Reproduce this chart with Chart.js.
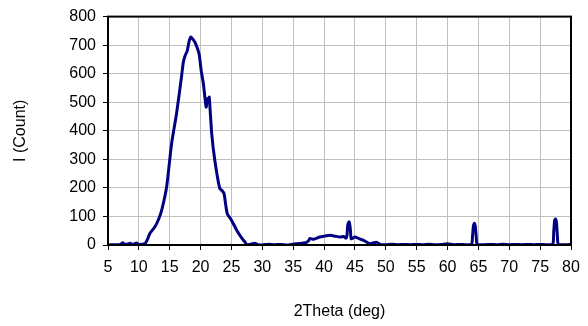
<!DOCTYPE html>
<html>
<head>
<meta charset="utf-8">
<script src="https://cdn.jsdelivr.net/npm/chart.js@4/dist/chart.umd.min.js"></script>
<style>
  html, body { margin: 0; padding: 0; background: #fff; }
  #wrap { width: 588px; height: 326px; }
</style>
</head>
<body>
<div id="wrap"><canvas id="xrd"></canvas></div>
<script>
// 2Theta (deg) vs intensity
const twoTheta = [5, 6, 7, 7.4, 7.8, 8.6, 9, 9.6, 10, 10.6, 11, 11.4, 11.8, 12.6, 13.2, 13.7, 14.5, 15.3, 16.1, 16.9,
  17.2, 17.5, 17.85, 18.1, 18.4, 18.7, 19.1, 19.75, 20.1, 20.45, 20.9, 21.1, 21.3, 21.4, 21.8, 22.3, 23.1, 23.5, 23.8, 24.3,
  25.0, 25.85, 26.7, 27.2, 27.5, 28, 28.8, 29.3, 30, 31, 32, 33, 34, 35, 36, 37, 37.5, 37.7, 38.3, 39.3,
  40, 41, 41.8, 42.6, 43.2, 43.55, 43.7, 43.85, 44.05, 44.25, 44.4, 45.0, 45.7, 46.4, 47, 47.4, 48.5, 49.1, 50, 51, 52,
  53, 54, 55, 56, 57, 58, 59, 60, 61, 62, 63, 63.9, 64.05, 64.2, 64.35, 64.5, 64.65, 64.8, 66, 67, 68, 69,
  70, 71, 72, 73, 74, 75, 76, 77.05, 77.2, 77.35, 77.5, 77.65, 77.8, 77.95, 79, 80];
const counts = [0, 1, 2, 8, 1, 6, 1, 7, 1, 3, 4, 20, 41, 64, 90, 122, 204, 355, 460, 588,
  640, 664, 681, 710, 728, 722, 710, 670, 610, 565, 483, 512, 500, 518, 390, 297, 198, 190, 180, 111,
  87, 52, 23, 10, 0, 2, 6, 1, 0, 3, 1, 2, 0, 3, 5, 8, 15, 23, 20, 28,
  31, 34, 31, 28, 30, 24, 32, 72, 81, 58, 22, 28, 22, 16, 9, 4, 10, 2, 1, 3, 1,
  2, 1, 2, 1, 3, 1, 2, 4, 1, 2, 1, 3, 32, 68, 76, 66, 28, 2, 1, 2, 1, 3,
  1, 2, 1, 2, 1, 2, 1, 3, 45, 86, 91, 78, 30, 2, 1, 2];

const xTitle = "2Theta (deg)";
const yTitle = "I (Count)";

const points = twoTheta.map((t, i) => ({ x: t, y: counts[i] }));
const fontBase = { family: "'Liberation Sans', Arial, sans-serif", size: 16 };

// kotak hitam di sekeliling area plot
const frameBox = {
  id: "frameBox",
  afterDraw(chart) {
    const a = chart.chartArea, ctx = chart.ctx;
    ctx.save();
    ctx.strokeStyle = "#000";
    ctx.lineWidth = 2;
    ctx.strokeRect(a.left, a.top, a.right - a.left, a.bottom - a.top);
    ctx.restore();
  }
};

new Chart(document.getElementById("xrd").getContext("2d"), {
  type: "line",
  data: {
    datasets: [{
      data: points,
      borderColor: "#000080",
      borderWidth: 3,
      pointRadius: 0,
      tension: 0.2,
      fill: false
    }]
  },
  options: {
    responsive: true,
    maintainAspectRatio: false,
    animation: false,
    layout: { padding: { top: 16, right: 17, left: 11, bottom: 0 } },
    plugins: { legend: { display: false }, tooltip: { enabled: false } },
    scales: {
      x: {
        type: "linear",
        min: 5, max: 80,
        afterFit: (s) => { s.height = 81; },
        grid: { color: "#c0c0c0", lineWidth: 1, tickColor: "#000", tickLength: 5 },
        border: { color: "#000", width: 2 },
        ticks: { stepSize: 5, color: "#000", font: fontBase, padding: 8, maxRotation: 0 },
        title: { display: true, text: xTitle, color: "#000", font: fontBase, padding: { top: 0, bottom: 5 } }
      },
      y: {
        min: 0, max: 800,
        afterFit: (s) => { s.width = 97; },
        grid: { color: "#c0c0c0", lineWidth: 1, tickColor: "#000", tickLength: 5 },
        border: { color: "#000", width: 2 },
        ticks: { stepSize: 100, color: "#000", font: fontBase, padding: 7 },
        title: { display: true, text: yTitle, color: "#000", font: fontBase, padding: { top: 0, bottom: 0 } }
      }
    }
  },
  plugins: [frameBox]
});
</script>
</body>
</html>
